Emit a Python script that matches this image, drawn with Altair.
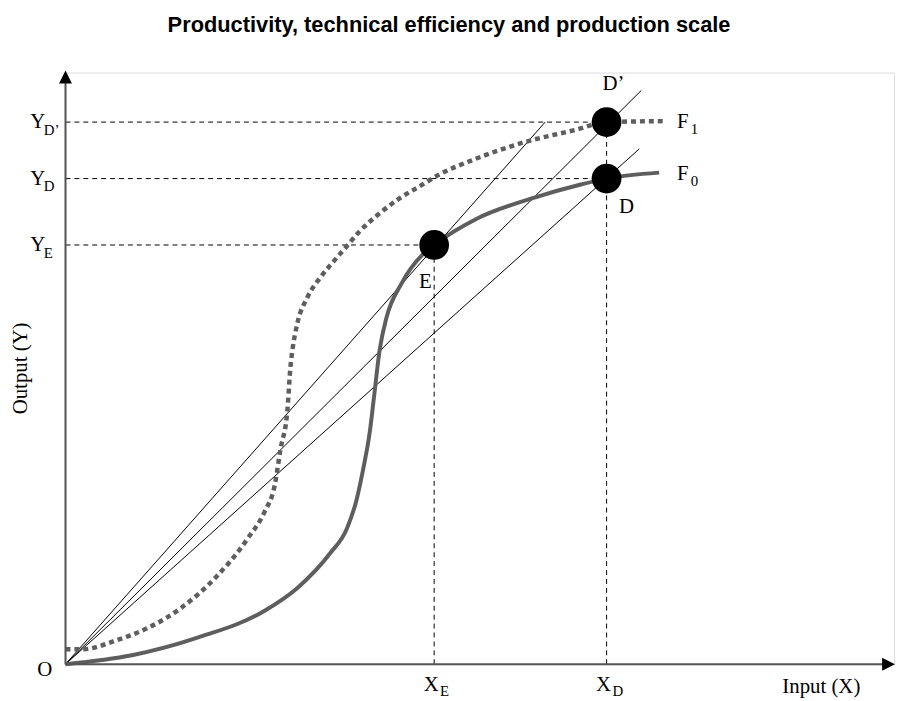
import altair as alt
import pandas as pd

# ---- data (chart units: 1 unit ~ 1 px of the plot) ----
f0_x = [0, 67, 134, 201, 234, 267, 284, 294, 301, 307, 311, 317, 324, 339, 361, 372, 414, 474, 520, 546, 599]
f0_y = [0, 9, 27, 54, 77, 112, 137, 167, 200, 234, 267, 317, 350, 384, 414, 423, 449, 471, 484, 490, 496]

f1_x = [0, 17, 51, 84, 117, 151, 184, 201, 211, 217, 224, 227, 229, 234, 244, 257, 271, 284, 297, 317, 337, 357, 377, 414, 464, 514, 546, 606]
f1_y = [15, 15, 24, 37, 57, 87, 127, 154, 180, 217, 257, 300, 317, 344, 370, 390, 407, 422, 437, 455, 470, 482, 494, 510, 527, 539, 547, 548]

x_E, y_E = 372, 423
x_D, y_D = 546, 490
y_Dp = 547

ray_end_x = [484, 581, 579]
ray_end_y = [547, 579, 520]

X_MAX, Y_MAX = 836, 597
x_axis_end, y_axis_end = 830, 591
x_tip, y_tip = 837, 599

TITLE = "Productivity, technical efficiency and production scale"
SERIF = "Liberation Serif"
GREY = "#5e5e5e"

xs = alt.Scale(domain=[0, X_MAX], nice=False, zero=False)
ys = alt.Scale(domain=[0, Y_MAX], nice=False, zero=False)


def X(f):
    return alt.X(f, type="quantitative", scale=xs, axis=None)


def Y(f):
    return alt.Y(f, type="quantitative", scale=ys, axis=None)


# axes
axes_df = pd.DataFrame({"x": [0, 0], "y": [0, 0], "x2": [x_axis_end, 0], "y2": [0, y_axis_end]})
axes = alt.Chart(axes_df).mark_rule(color="#555555", strokeWidth=2).encode(
    x=X("x"), y=Y("y"), x2="x2", y2="y2")

up_df = pd.DataFrame({"x": [0], "y": [y_tip]})
arrow_up = alt.Chart(up_df).mark_point(
    shape="M0,0L0.5,1L-0.5,1Z", size=676, filled=True, color="black", opacity=1, strokeWidth=0
).encode(x=X("x"), y=Y("y"))
right_df = pd.DataFrame({"x": [x_tip], "y": [0]})
arrow_right = alt.Chart(right_df).mark_point(
    shape="M0,0L-1,-0.5L-1,0.5Z", size=676, filled=True, color="black", opacity=1, strokeWidth=0
).encode(x=X("x"), y=Y("y"))

# dashed guides
guides_df = pd.DataFrame({
    "x": [0, 0, 0, x_E, x_D],
    "y": [y_E, y_D, y_Dp, 0, 0],
    "x2": [x_E, x_D, x_D, x_E, x_D],
    "y2": [y_E, y_D, y_Dp, y_E, y_Dp],
})
guides = alt.Chart(guides_df).mark_rule(color="black", strokeWidth=1, strokeDash=[5, 4]).encode(
    x=X("x"), y=Y("y"), x2="x2", y2="y2")

# rays from origin
rays_df = pd.DataFrame({"x": [0, 0, 0], "y": [0, 0, 0], "x2": ray_end_x, "y2": ray_end_y})
rays = alt.Chart(rays_df).mark_rule(color="black", strokeWidth=1).encode(
    x=X("x"), y=Y("y"), x2="x2", y2="y2")

# production curves
f1_df = pd.DataFrame({"x": f1_x, "y": f1_y, "i": range(len(f1_x))})
f1 = alt.Chart(f1_df).mark_line(color=GREY, strokeWidth=4.5, strokeDash=[5, 4], interpolate="monotone").encode(
    x=X("x"), y=Y("y"), order="i:Q")
f0_df = pd.DataFrame({"x": f0_x, "y": f0_y, "i": range(len(f0_x))})
f0 = alt.Chart(f0_df).mark_line(color=GREY, strokeWidth=4, interpolate="monotone").encode(
    x=X("x"), y=Y("y"), order="i:Q")

# points
pts_df = pd.DataFrame({"x": [x_E, x_D, x_D], "y": [y_E, y_D, y_Dp], "name": ["E", "D", "D’"]})
pts = alt.Chart(pts_df).mark_circle(size=900, color="black", opacity=1).encode(x=X("x"), y=Y("y"))


def txt(df, text, size=21, **kw):
    return alt.Chart(df).mark_text(font=SERIF, fontSize=size, color="black", baseline="middle", **kw).encode(
        x=X("x"), y=Y("y"), text=text)


# point labels
lab_E = txt(pts_df.iloc[[0]], "name:N", dx=-9, dy=37)
lab_D = txt(pts_df.iloc[[1]], "name:N", dx=20, dy=29)
lab_Dp = txt(pts_df.iloc[[2]], "name:N", dx=7, dy=-38)

# curve labels
f_lab_x = max(f1_x[-1], f0_x[-1])
flab_df = pd.DataFrame({"x": [f_lab_x, f_lab_x], "y": [f1_y[-1], f0_y[-1]], "main": ["F", "F"], "sub": ["1", "0"]})
f_main = txt(flab_df, "main:N", align="left", dx=11, dy=1)
f_sub = txt(flab_df, "sub:N", size=15, align="left", dx=25, dy=8)

# y-axis labels
ylab_df = pd.DataFrame({"x": [0, 0, 0], "y": [y_Dp, y_D, y_E], "main": ["Y", "Y", "Y"], "sub": ["D’", "D", "E"]})
y_main = txt(ylab_df, "main:N", align="center", dx=-28)
y_sub = txt(ylab_df, "sub:N", size=15, align="left", dx=-22, dy=8)

# x-axis labels
xlab_df = pd.DataFrame({"x": [x_E, x_D], "y": [0, 0], "main": ["X", "X"], "sub": ["E", "D"]})
x_main = txt(xlab_df, "main:N", align="center", dx=-3, dy=21)
x_sub = txt(xlab_df, "sub:N", size=15, align="left", dx=6, dy=27)

# axis names / origin
o_df = pd.DataFrame({"x": [0], "y": [0], "t": ["O"]})
o_lab = txt(o_df, "t:N", align="center", dx=-21, dy=6)
in_df = pd.DataFrame({"x": [x_axis_end], "y": [0], "t": ["Input (X)"]})
in_lab = txt(in_df, "t:N", align="right", dx=-28, dy=23)
out_df = pd.DataFrame({"x": [0], "y": [Y_MAX / 2], "t": ["Output (Y)"]})
out_lab = txt(out_df, "t:N", align="center", angle=270, dy=-45)

chart = alt.layer(
    guides, rays, f1, f0, axes, arrow_up, arrow_right, pts,
    lab_E, lab_D, lab_Dp, f_main, f_sub, y_main, y_sub, x_main, x_sub, o_lab, in_lab, out_lab,
).properties(
    width=X_MAX,
    height=Y_MAX,
    autosize=alt.AutoSizeParams(type="none"),
    padding={"left": 58, "top": 62, "right": 1, "bottom": 34},
    title=alt.TitleParams(
        TITLE, font="Liberation Sans", fontSize=22, fontWeight="bold", color="black",
        anchor="middle", baseline="alphabetic", offset=17, dx=-31,
    ),
).configure_view(stroke=None).configure(background="white")

chart.save("out.html", embed_options={"renderer": "svg", "actions": False})
